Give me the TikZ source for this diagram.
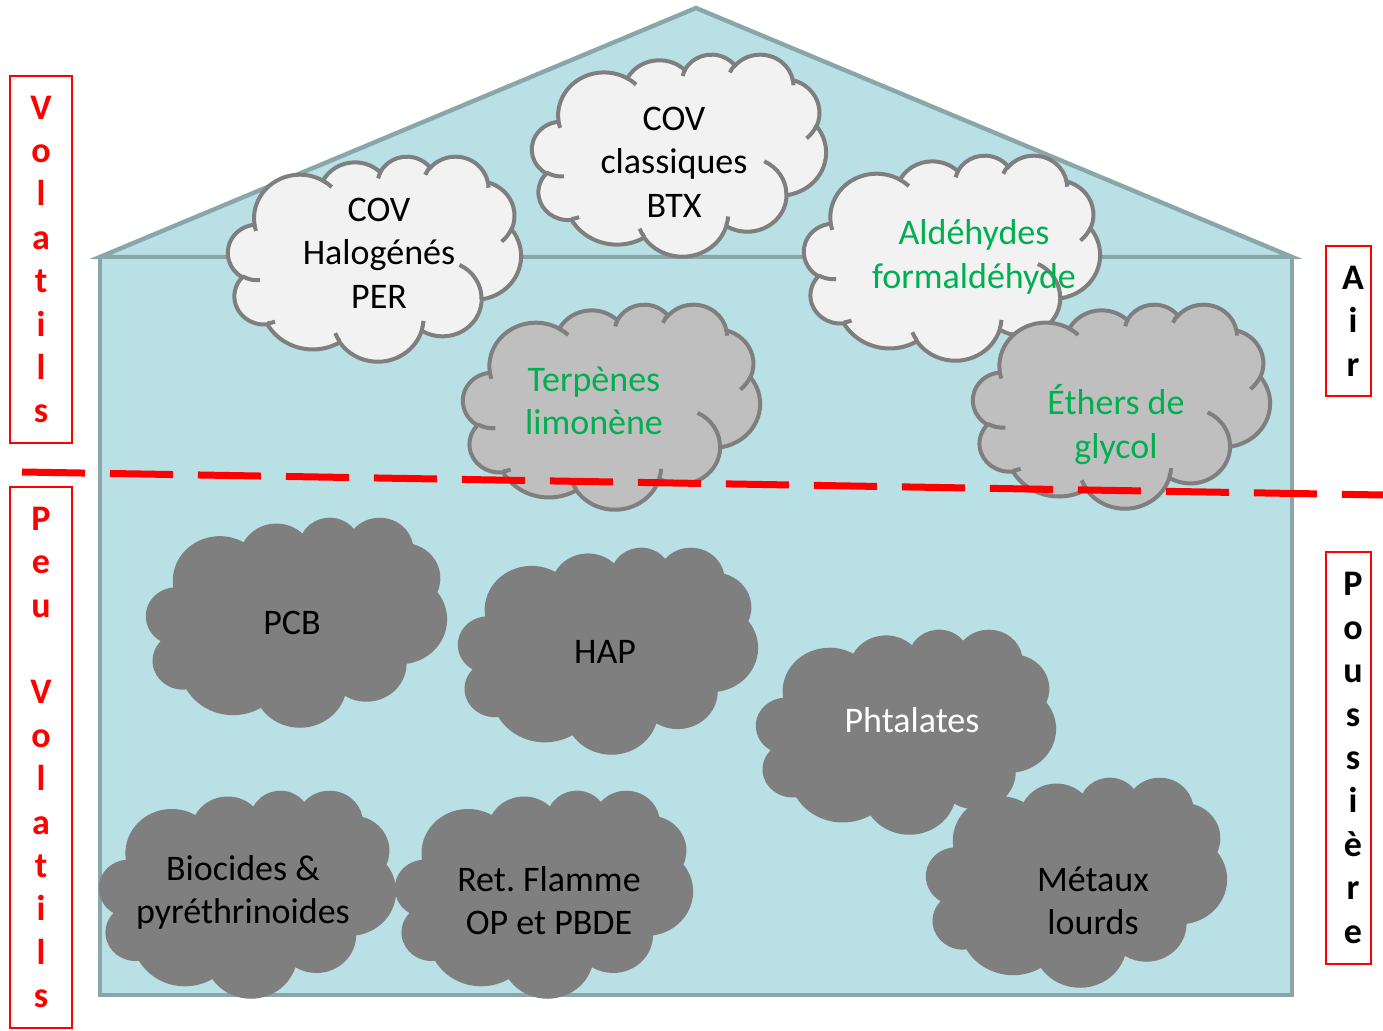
\documentclass[tikz,border=0pt]{standalone}
\usepackage{fontspec}
\setmainfont{Carlito}
\frenchspacing
\definecolor{housefill}{RGB}{185,224,228}
\definecolor{houseline}{RGB}{137,166,169}
\definecolor{cloudlight}{RGB}{242,242,242}
\definecolor{cloudmid}{RGB}{191,191,191}
\definecolor{cloudgray}{RGB}{127,127,127}
\definecolor{txtgreen}{RGB}{0,176,80}

% elliptical arc of the Office "cloud" shape: #1 id, #2 wR, #3 hR, #4 start (visual), #5 sweep
\newcommand\defcloudarc[5]{%
  \pgfmathsetmacro\tmpts{atan2((#2)*sin(#4),(#3)*cos(#4))}%
  \pgfmathsetmacro\tmpte{atan2((#2)*sin((#4)+(#5)),(#3)*cos((#4)+(#5)))}%
  \pgfmathsetmacro\tmpd{\tmpte-\tmpts}%
  \pgfmathsetmacro\tmpd{\tmpd+360*and(#5>0,\tmpd<0)-360*and(#5<0,\tmpd>0)}%
  \pgfmathsetmacro\tmpte{\tmpts+\tmpd}%
  \expandafter\xdef\csname cloudarc#1\endcsname{\noexpand\pgfpatharcaxes{\tmpts}{\tmpte}{\noexpand\pgfpointxy{#2}{0}}{\noexpand\pgfpointxy{0}{#3}}}%
}

% #1 left, #2 top, #3 right, #4 bottom (px), #5 style, #6 inner arcs (1/0)
\newcommand\drawcloud[6]{%
  \pgfmathsetmacro\cldx{((#3)-(#1))*0.5/432}%
  \pgfmathsetmacro\cldy{((#4)-(#2))*0.5/432}%
  \begin{scope}[shift={(#1,#2)},x=\cldx pt,y=-\cldy pt]
    \path[#5] (39,143.7) \pgfextra{\cloudarcA\cloudarcB\cloudarcC\cloudarcD\cloudarcE\cloudarcF\cloudarcG\cloudarcH\cloudarcI\cloudarcJ\cloudarcK} -- cycle;
    \ifnum#6=1
      \path[cloudinner]
        (46.93,261.77) \pgfextra{\cloudarca}
        (69.28,348.99) \pgfextra{\cloudarcb}
        (164.78,390.90) \pgfextra{\cloudarcc}
        (288.27,347.51) \pgfextra{\cloudarcd}
        (341.29,229.54) \pgfextra{\cloudarce}
        (417.98,153.54) \pgfextra{\cloudarcf}
        (383.24,54.26) \pgfextra{\cloudarcg}
        (290.78,39.52) \pgfextra{\cloudarch}
        (221.41,47.20) \pgfextra{\cloudarci}
        (140.00,51.92) \pgfextra{\cloudarcj}
        (41.27,157.89) \pgfextra{\cloudarck};
    \fi
  \end{scope}
}

\newcommand\rsh{\hspace*{4.5pt}}

\tikzset{
  house/.style={fill=housefill, draw=houseline, line width=2.2pt, line join=miter},
  cloudlt/.style={fill=cloudlight, draw=cloudgray, line width=2pt},
  cloudmd/.style={fill=cloudmid, draw=cloudgray, line width=2pt},
  clouddk/.style={fill=cloudgray},
  cloudinner/.style={draw=cloudgray, line width=2pt},
  lbl/.style={font=\fontsize{18}{21.75}\selectfont, align=center, inner sep=0pt, text depth=0pt},
  sidebox/.style={draw=red, line width=1pt, inner sep=0pt, align=center,
    font=\bfseries\fontsize{18}{21.7}\selectfont},
  sepline/.style={draw=red, line width=3.5pt, dash pattern=on 31.5pt off 12.5pt},
}

\begin{document}
\begin{tikzpicture}[x=0.5pt,y=-0.5pt]
\useasboundingbox (0,0) rectangle (1383,1031);

\defcloudarc{A}{67.53}{91.90}{-190.48748}{123.78053}
\defcloudarc{B}{53.33}{72.67}{-144.10238}{89.94523}
\defcloudarc{C}{43.65}{59.45}{-145.80792}{99.72302}
\defcloudarc{D}{48.57}{65.95}{-130.98607}{117.24173}
\defcloudarc{E}{53.33}{72.73}{-78.70888}{109.02692}
\defcloudarc{F}{67.75}{92.20}{-46.26725}{130.26900}
\defcloudarc{G}{57.85}{78.67}{0.62502}{114.03333}
\defcloudarc{H}{67.52}{92.15}{22.45160}{115.17255}
\defcloudarc{I}{77.20}{105.43}{66.24263}{75.71102}
\defcloudarc{J}{43.60}{59.18}{-274.94208}{146.73557}
\defcloudarc{K}{43.45}{59.45}{-246.82850}{152.51885}
\defcloudarc{a}{43.45}{59.45}{86.74200}{26.42950}
\defcloudarc{b}{43.60}{59.18}{73.61047}{11.44747}
\defcloudarc{c}{67.52}{92.15}{137.62415}{14.08110}
\defcloudarc{d}{67.52}{92.15}{6.45327}{15.99835}
\defcloudarc{e}{57.85}{78.67}{-70.29235}{70.91737}
\defcloudarc{f}{53.33}{72.73}{30.31803}{27.75150}
\defcloudarc{g}{48.57}{65.95}{-13.74433}{14.85890}
\defcloudarc{h}{48.57}{65.95}{-149.18145}{18.19537}
\defcloudarc{i}{43.65}{59.45}{-163.49427}{17.84588}
\defcloudarc{j}{67.53}{91.90}{-66.70695}{12.31935}
\defcloudarc{k}{67.53}{91.90}{157.65435}{11.85817}

% house
\path[house] (100,257) -- (696,8) -- (1292,257) -- cycle;
\path[house] (100,257) rectangle (1292,995);

% upper clouds
\drawcloud{228}{156}{521}{361}{cloudlt}{1}
\drawcloud{532}{54}{826}{256}{cloudlt}{1}
\drawcloud{804}{155}{1100}{360}{cloudlt}{1}
\drawcloud{463}{304}{760}{509}{cloudmd}{1}
\drawcloud{973}{304}{1270}{508}{cloudmd}{1}

\node[lbl] (halo) at (379,253) {COV\\Halogénés\\PER};
\node[lbl] (btx) at (674,162) {COV\\classiques\\BTX};
\node[lbl, text=txtgreen] (ald) at (974,254) {Aldéhydes\\formaldéhyde};
\node[lbl, text=txtgreen] (terp) at (594,400.5) {Terpènes\\limonène};
\node[lbl, text=txtgreen] (eth) at (1116,421.5) {Éthers de\\glycol};

% lower clouds
\drawcloud{146}{517}{447}{727}{clouddk}{0}
\drawcloud{458}{547}{758}{754}{clouddk}{0}
\drawcloud{756}{629}{1056}{834}{clouddk}{0}
\drawcloud{99}{790}{396}{998}{clouddk}{0}
\drawcloud{395}{790}{693}{998}{clouddk}{0}
\drawcloud{926}{777}{1227}{987}{clouddk}{0}

\node[lbl] (pcb) at (292,623) {PCB};
\node[lbl] (hap) at (605,652) {HAP};
\node[lbl, text=white] (pht) at (912,720) {Phtalates};
\node[lbl] (bio) at (243,889.5) {Biocides \&\\pyréthrinoides};
\node[lbl] (ret) at (549,900.5) {Ret. Flamme\\OP et PBDE};
\node[lbl] (met) at (1093,900.5) {Métaux\\lourds};

% separation line
\coordinate (sepL) at (22,472);
\coordinate (sepR) at (1383,495);
\draw[sepline] (sepL) -- (sepR);

% side labels
\node[sidebox, text=red, minimum width=31pt, minimum height=183.5pt] (vol) at (41,259.5)
  {V\\o\\l\\a\\t\\i\\l\\s};
\node[sidebox, text=red, minimum width=31pt, minimum height=270.5pt] (peuvol) at (41,757.5)
  {P\\e\\u\\\mbox{}\\V\\o\\l\\a\\t\\i\\l\\s};
\node[sidebox, text=black, minimum width=22.5pt, minimum height=75pt] (air) at (1348.5,321)
  {\rsh A\\\rsh i\\\rsh r};
\node[sidebox, text=black, minimum width=22.5pt, minimum height=206pt] (pous) at (1348.5,758)
  {\rsh P\\\rsh o\\\rsh u\\\rsh s\\\rsh s\\\rsh i\\\rsh è\\\rsh r\\\rsh e};
\end{tikzpicture}
\end{document}
